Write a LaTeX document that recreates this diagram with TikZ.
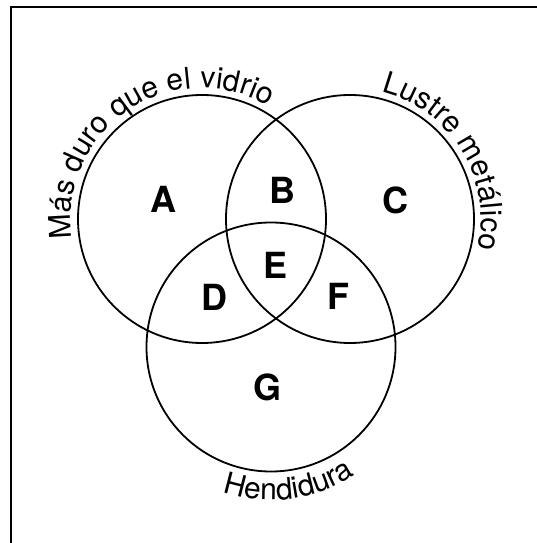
\documentclass[tikz,border=0pt]{standalone}
\usepackage{fontspec}
\setmainfont{TeX Gyre Heros}
\usetikzlibrary{decorations.text}

\newcommand{\arcfont}{\fontsize{30}{30}\selectfont}
\tikzset{
  ring/.style={line width=1.8pt},
  region/.style={inner sep=0pt, font=\fontsize{36}{36}\selectfont\bfseries},
  arclabel/.style={decorate, decoration={text along path, text align=center, text={#1}}}
}

\begin{document}
\begin{tikzpicture}[x=1pt,y=1pt]
  \useasboundingbox (0,0) rectangle (537,543);
  % frame
  \draw [line width=2pt] (11,0) -- (11,535.5) -- (537,535.5);

  % centres of the three sets
  \coordinate (duro) at (202,324);
  \coordinate (lustre) at (350,324);
  \coordinate (hend) at (271,196);

  % Shape: Circles
  \draw [ring] (duro) circle [radius=124];
  \draw [ring] (lustre) circle [radius=124];
  \draw [ring] (hend) circle [radius=124.5];

  % Text along the circles
  \path [arclabel={|\arcfont|Más duro que el vidrio}]
    (duro) ++(190:131) arc [start angle=190, end angle=58, radius=131];
  \path [arclabel={|\arcfont|Lustre metálico}]
    (lustre) ++(75:131) arc [start angle=75, end angle=-12, radius=131];
  \path [arclabel={|\arcfont|Hendidura}]
    (hend) ++(246:153) arc [start angle=246, end angle=309, radius=153];

  % Text Node
  \node [region] (a) at (163,344) {A};
  \node [region] (b) at (282,353) {B};
  \node [region] (c) at (395,343) {C};
  \node [region] (e) at (276,278) {E};
  \node [region] (d) at (214,246) {D};
  \node [region] (f) at (338,247) {F};
  \node [region] (g) at (268,156) {G};
\end{tikzpicture}
\end{document}
